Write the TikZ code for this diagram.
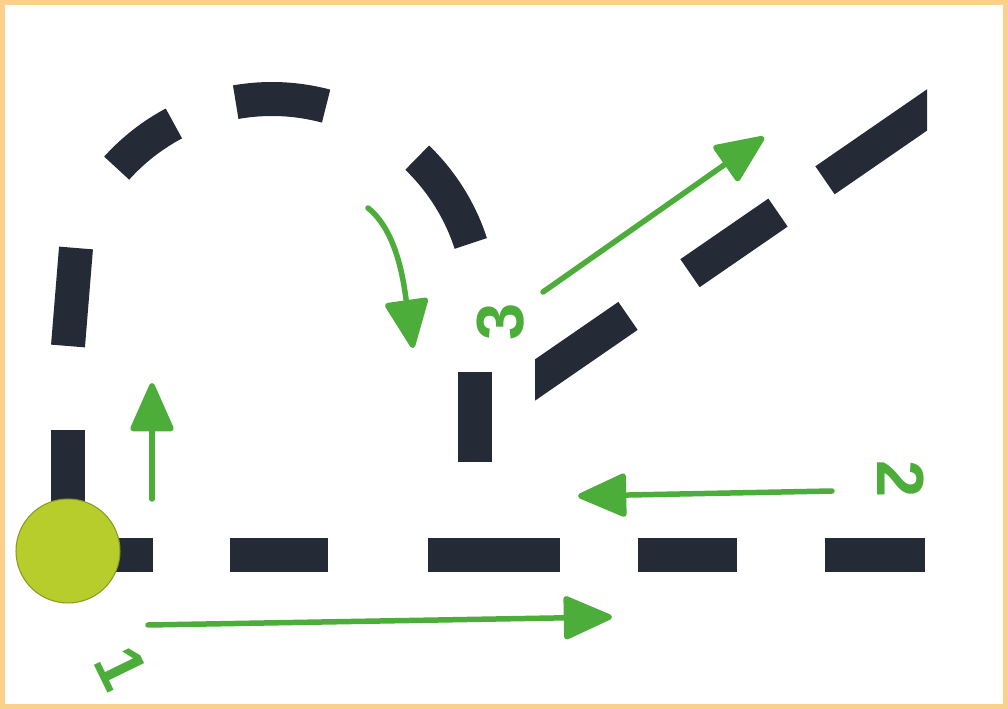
\documentclass[tikz,border=0pt]{standalone}
\usepackage{fontspec}
\setsansfont{Liberation Sans}
\usetikzlibrary{arrows.meta}
\definecolor{inkdark}{HTML}{242B36}
\definecolor{markgreen}{HTML}{4CAD3A}
\definecolor{limeball}{HTML}{B7CD2C}
\definecolor{oliverim}{HTML}{8A9A22}
\definecolor{framegold}{HTML}{FAD08A}

\tikzset{
  dashbar/.style={draw=inkdark, line width=0.68cm, line cap=butt},
  penarrow/.style={draw=markgreen, line width=0.11cm, line cap=round,
    -{Triangle[length=1.05cm, width=0.9cm, round]}},
  penlabel/.style={text=markgreen, inner sep=0pt,
    font=\fontsize{38}{38}\selectfont\sffamily\bfseries}
}

\begin{document}
\begin{tikzpicture}[x=0.02cm, y=-0.02cm]

% Background and frame
\useasboundingbox (0,0) rectangle (1008,709);
\fill[white] (0,0) rectangle (1008,709);
\draw[framegold, line width=0.1cm] (2.5,2.5) rectangle (1005.5,706.5);

% === Dark dashed strokes ===
% baseline to the right
\foreach \xa/\xb in {68/153, 230/328, 428/560, 638/737, 825/925} {
  \draw[dashbar] (\xa,555) -- (\xb,555);
}

% up from the ball, over the arc, and down again
\coordinate (arcc) at (272,308);
\draw[dashbar] (68,551) -- (68,430);
\draw[dashbar] (68,346) -- (76,248);
\foreach \a/\b in {222/242, 260/285, 314/342} {
  \draw[dashbar] (arcc) ++(\a:209) arc[start angle=\a, end angle=\b, radius=209];
}
\draw[dashbar] (475,372) -- (475,462);

% slanted line, ends cut square to the page
\begin{scope}
  \clip (535,0) rectangle (927,709);
  \draw[dashbar] (515,393.8) -- (628,315.9);
  \draw[dashbar] (690,273.2) -- (778,212.6);
  \draw[dashbar] (825,180.3) -- (947,96.2);
\end{scope}

% Ball at the start
\node[circle, minimum size=2.08cm, inner sep=0pt, fill=limeball,
      draw=oliverim, line width=0.6pt] (ball) at (68,551) {};

% === Green marker arrows ===
\coordinate (up1) at (152,499);
\coordinate (up2) at (152,383);
\draw[penarrow] (up1) -- (up2);

\coordinate (run1) at (148,625);
\coordinate (run2) at (612,617);
\draw[penarrow] (run1) -- (run2);

\coordinate (back1) at (832,491);
\coordinate (back2) at (578,496);
\draw[penarrow] (back1) -- (back2);

\coordinate (rise1) at (543,292);
\coordinate (rise2) at (764,137);
\draw[penarrow] (rise1) -- (rise2);

\coordinate (drop1) at (368,208);
\coordinate (drop2) at (413,348);
\draw[penarrow] (drop1) .. controls (398,232) and (404,285) .. (drop2);

% Numbers
\node[penlabel, rotate=-64] (num1) at (121,668) {1};
\node[penlabel, rotate=-90] (num2) at (901,479) {2};
\node[penlabel, rotate=90]  (num3) at (501,322) {3};

\end{tikzpicture}
\end{document}
